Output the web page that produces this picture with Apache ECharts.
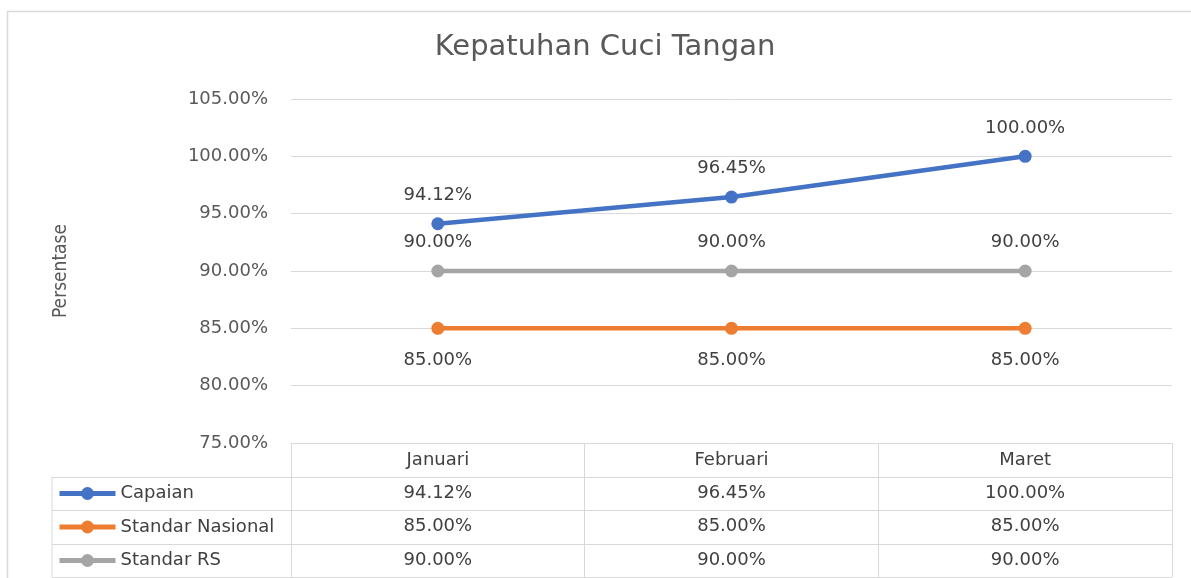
<!DOCTYPE html>
<html>
<head>
<meta charset="utf-8">
<script src="https://cdn.jsdelivr.net/npm/echarts@6/dist/echarts.min.js"></script>
<style>
  html, body { margin: 0; padding: 0; background: #fff; }
  #chart { width: 1191px; height: 578px; }
</style>
</head>
<body>
<div id="chart"></div>
<script>
// data
const months = ['Januari', 'Februari', 'Maret'];
const capaian = [94.12, 96.45, 100.00];
const standarNasional = [85.00, 85.00, 85.00];
const standarRS = [90.00, 90.00, 90.00];
const yTicks = [75, 80, 85, 90, 95, 100, 105];

const FONT = 'DejaVu Sans';
const pct = v => v.toFixed(2) + '%';

const seriesDefs = [
  { name: 'Capaian', data: capaian, color: '#4472C4', pos: 'top', dist: 13 },
  { name: 'Standar Nasional', data: standarNasional, color: '#ED7D31', pos: 'bottom', dist: 16 },
  { name: 'Standar RS', data: standarRS, color: '#A5A5A5', pos: 'top', dist: 13 }
];

// table rows (header row + one per series)
const tableTop = 443;
const rowH = 33.5;
const tableLeft = 52;
const tableRight = 1172;

const chart = echarts.init(document.getElementById('chart'));

const option = {
  animation: false,
  textStyle: { fontFamily: FONT },
  title: {
    text: 'Kepatuhan Cuci Tangan',
    left: 605,
    textAlign: 'center',
    top: 33,
    padding: 0,
    textStyle: { fontFamily: FONT, fontSize: 29, fontWeight: 'normal', color: '#595959' }
  },
  grid: { left: 291, right: 19, top: 99, bottom: 135 },
  legend: {
    orient: 'vertical',
    left: 57,
    top: tableTop + rowH + 8,
    padding: 0,
    itemWidth: 56,
    itemHeight: 16,
    itemGap: rowH - 18,
    selectedMode: false,
    lineStyle: { width: 5 },
    textStyle: { fontFamily: FONT, fontSize: 18, color: '#404040', lineHeight: 18 },
    data: seriesDefs.map(s => s.name)
  },
  xAxis: {
    type: 'category',
    data: months,
    axisLine: { lineStyle: { color: '#d9d9d9', width: 1 } },
    axisTick: { show: true, inside: false, length: rowH * 4, lineStyle: { color: '#d9d9d9' } },
    axisLabel: { margin: 8, fontFamily: FONT, fontSize: 18, color: '#404040' }
  },
  yAxis: {
    type: 'value',
    min: yTicks[0],
    max: yTicks[yTicks.length - 1],
    interval: 5,
    name: 'Persentase',
    nameLocation: 'middle',
    nameGap: 220,
    nameTextStyle: { fontFamily: 'DejaVu Sans Condensed', fontSize: 19, color: '#595959' },
    axisLine: { show: false },
    axisTick: { show: false },
    axisLabel: { margin: 23, fontFamily: FONT, fontSize: 18, color: '#595959', formatter: v => pct(v) },
    splitLine: { lineStyle: { color: '#d9d9d9', width: 1 } }
  },
  series: seriesDefs.map((s, i) => ({
    name: s.name,
    type: 'line',
    data: s.data,
    symbol: 'circle',
    symbolSize: 13,
    z: 10 - i,
    itemStyle: { color: s.color },
    lineStyle: { color: s.color, width: 4.5 },
    label: {
      show: true,
      position: s.pos,
      distance: s.dist,
      fontFamily: FONT,
      fontSize: 18,
      color: '#404040',
      formatter: p => pct(p.value)
    }
  }))
};

chart.setOption(option);

// data table body: row lines + values placed under each category
const graphics = [
  { type: 'rect', shape: { x: 7.5, y: 11.5, width: 1400, height: 800 },
    style: { fill: 'none', stroke: '#d9d9d9', lineWidth: 1.5 }, silent: true },
  { type: 'line', shape: { x1: tableLeft, y1: tableTop + rowH, x2: tableLeft, y2: tableTop + rowH * 4 },
    style: { stroke: '#d9d9d9', lineWidth: 1 } }
];
for (let r = 1; r <= 4; r++) {
  const y = Math.round(tableTop + rowH * r) + 0.5;
  graphics.push({ type: 'line', shape: { x1: tableLeft, y1: y, x2: tableRight, y2: y },
    style: { stroke: '#d9d9d9', lineWidth: 1 } });
}
seriesDefs.forEach((s, r) => {
  const cy = tableTop + rowH * (r + 1.5);
  months.forEach((m, c) => {
    const cx = chart.convertToPixel({ xAxisIndex: 0 }, m);
    graphics.push({
      type: 'text', x: cx, y: cy,
      style: { text: pct(s.data[c]), fontFamily: FONT, fontSize: 18, fill: '#404040',
        align: 'center', verticalAlign: 'middle' }
    });
  });
});
chart.setOption({ graphic: graphics });

window.addEventListener('resize', () => chart.resize());
</script>
</body>
</html>
